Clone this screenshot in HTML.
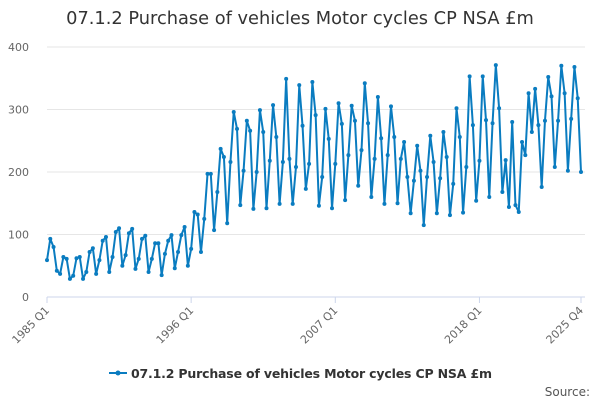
<!DOCTYPE html>
<html><head><meta charset="utf-8"><style>
body{margin:0;background:#fff;font-family:"DejaVu Sans","Liberation Sans",sans-serif;}
svg{display:block}
</style></head><body>
<svg id="chart" width="600" height="400">
<text x="300" y="24" text-anchor="middle" font-size="17.8" fill="#333">07.1.2 Purchase of vehicles Motor cycles CP NSA £m</text>
<g id="grid"></g><g id="xaxis"></g><g id="series"></g>
<g>
<line x1="109" y1="373" x2="127" y2="373" stroke="#0a7cc0" stroke-width="2"/>
<circle cx="118" cy="373" r="2.5" fill="#0a7cc0"/>
<text x="131" y="378" font-size="12.5" font-weight="bold" fill="#333" textLength="361">07.1.2 Purchase of vehicles Motor cycles CP NSA £m</text>
</g>
<text x="590" y="396" text-anchor="end" font-size="12" fill="#555">Source:</text>
</svg>
<script>
const startYear = 1985;
const yTicks = [0,100,200,300,400];
const xTickLabels = ["1985 Q1","1996 Q1","2007 Q1","2018 Q1","2025 Q4"];
const xTickIndex = [0,44,88,132,163];
const values = [
59,93,80,42, 37,64,61,29, 34,62,64,29, 40,72,78,37, 59,90,96,40,
64,104,110,50, 67,102,109,45, 61,93,98,40, 61,86,86,35, 69,90,99,46,
72,99,112,50, 77,136,132,72, 125,197,197,107, 168,237,224,118, 216,296,269,147,
202,282,266,141, 200,299,264,142, 218,307,256,149, 216,349,221,149, 208,339,274,173,
213,344,291,146, 192,301,253,142, 213,310,277,155, 227,306,282,178, 235,342,278,160,
221,320,254,149, 227,305,256,150, 221,248,192,134, 186,242,202,115, 192,258,216,134,
190,264,224,131, 181,302,256,135, 208,353,275,154, 218,353,283,160, 278,371,302,168,
219,144,280,147, 136,248,227,326, 264,333,275,176, 282,352,321,208, 282,370,326,202,
285,368,318,200
];
const NS="http://www.w3.org/2000/svg";
const x0=47,x1=581,yB=297,yT=47;
const xs=i=>x0+(x1-x0)*i/(values.length-1);
const ys=v=>yB-(yB-yT)*v/400;
function mk(t,a,p){const e=document.createElementNS(NS,t);for(const k in a)e.setAttribute(k,a[k]);p.appendChild(e);return e;}
const grid=document.getElementById('grid');
yTicks.forEach(v=>{
  const l=mk('line',{x1:x0,x2:x1+4,y1:ys(v),y2:ys(v),stroke:v===0?'#ccd6eb':'#e6e6e6'},grid);
  
  
  const t=mk('text',{x:29,y:ys(v)+4,'text-anchor':'end','font-size':11,fill:'#666'},grid);
  t.textContent=v;
  
  
});
const xa=document.getElementById('xaxis');
xTickLabels.forEach((lab,k)=>{
  const x=xs(xTickIndex[k]);
  const tk=mk('line',{x1:x,x2:x,y1:yB,y2:yB+6,stroke:'#ccd6eb'},xa);
  
  
  const t=mk('text',{x:x+3,y:yB+14,'text-anchor':'end','font-size':11,fill:'#666',transform:`rotate(-45 ${x+3} ${yB+14})`},xa);
  t.textContent=lab;
  
  
});
const s=document.getElementById('series');
const pl=mk('polyline',{points:values.map((v,i)=>xs(i)+','+ys(v)).join(' '),fill:'none',stroke:'#0a7cc0','stroke-width':2,'stroke-linejoin':'round'},s);


values.forEach((v,i)=>{
  const c=mk('circle',{cx:xs(i),cy:ys(v),r:2,fill:'#0a7cc0'},s);
  
  
});
</script>
</body></html>
